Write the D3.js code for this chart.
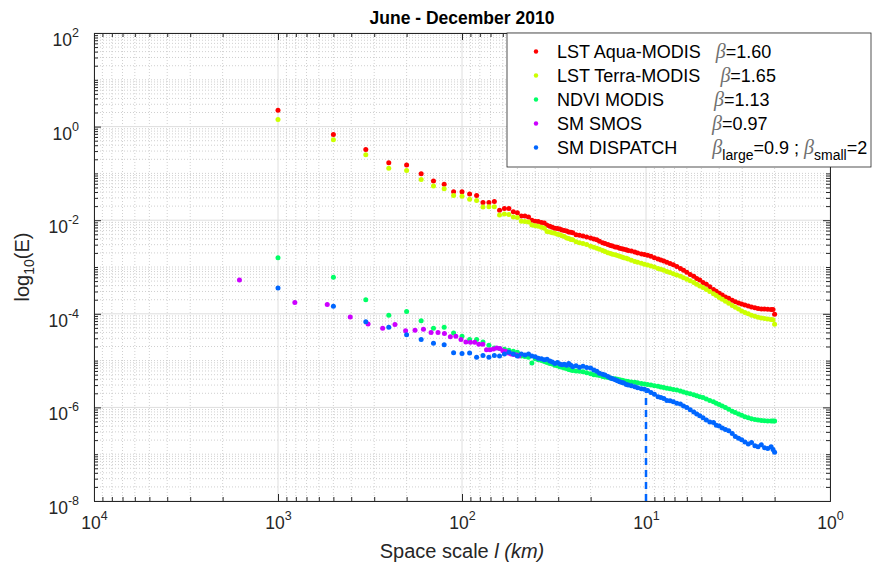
<!DOCTYPE html>
<html>
<head>
<meta charset="utf-8">
<script src="https://cdn.jsdelivr.net/npm/d3@7"></script>
<style>
  body { margin: 0; background: #fff; }
  svg { font-family: "Liberation Sans", Arial, Helvetica, sans-serif; }
</style>
</head>
<body>
<svg id="chart" width="872" height="570"></svg>
<script>
// space scales (km) of the MODIS-grid series (1000 km / n, then the dense tail down to 2 km)
const scalesKm = [1000, 500, 333.3, 250, 200, 166.7, 142.9, 125, 111.1, 100,
  90.9, 83.3, 76.9, 71.4, 66.7, 62.5, 58.8, 55.6, 52.6, 50,
  47.6, 45.5, 43.5, 41.7, 40, 38.5, 37.0, 35.7, 34.5, 33.3,
  32.3, 31.3, 30.3, 29.4, 28.6, 27.8, 27.0, 26.3, 25.6, 25.0,
  24, 23, 22, 21, 20, 19.2, 18.5, 17.9, 17.2, 16.7,
  16.1, 15.6, 15.2, 14.7, 14.3, 13.9, 13.5, 13.2, 12.8, 12.5,
  12.0, 11.5, 11.1, 10.6, 10.2, 9.8, 9.4, 9.0, 8.6, 8.3,
  8.0, 7.7, 7.4, 7.1, 6.8, 6.5, 6.25, 6.0, 5.75, 5.5,
  5.3, 5.1, 4.9, 4.7, 4.5, 4.3, 4.15, 4.0, 3.85, 3.7,
  3.55, 3.4, 3.27, 3.14, 3.02, 2.9, 2.78, 2.67, 2.56, 2.46,
  2.36, 2.27, 2.18, 2.09, 2.04, 2.0];

// log10(E)
const aquaLogE = [0.35, -0.17, -0.49, -0.77, -0.82, -1.01, -1.16, -1.23, -1.39, -1.39,
  -1.44, -1.47, -1.62, -1.62, -1.60, -1.79, -1.75, -1.75, -1.82, -1.84,
  -1.91, -1.91, -1.93, -2.00, -2.02, -2.03, -2.05, -2.06, -2.11, -2.13,
  -2.15, -2.17, -2.18, -2.19, -2.21, -2.22, -2.23, -2.25, -2.26, -2.27,
  -2.31, -2.32, -2.34, -2.36, -2.38, -2.40, -2.42, -2.45, -2.48, -2.50,
  -2.52, -2.54, -2.55, -2.57, -2.58, -2.60, -2.61, -2.62, -2.63, -2.645,
  -2.66, -2.68, -2.70, -2.72, -2.735, -2.75, -2.77, -2.80, -2.83, -2.85,
  -2.87, -2.90, -2.925, -2.95, -2.99, -3.03, -3.07, -3.11, -3.16, -3.20,
  -3.245, -3.28, -3.33, -3.37, -3.42, -3.48, -3.52, -3.56, -3.60, -3.64,
  -3.67, -3.71, -3.74, -3.77, -3.79, -3.81, -3.835, -3.855, -3.87, -3.885,
  -3.895, -3.90, -3.905, -3.91, -3.91, -4.01];

const terraLogE = [0.15, -0.28, -0.60, -0.89, -0.94, -1.13, -1.27, -1.33, -1.47, -1.49,
  -1.55, -1.58, -1.72, -1.71, -1.71, -1.89, -1.87, -1.88, -1.93, -1.94,
  -2.02, -2.03, -2.04, -2.10, -2.12, -2.13, -2.15, -2.17, -2.24, -2.25,
  -2.27, -2.28, -2.30, -2.31, -2.33, -2.35, -2.38, -2.39, -2.41, -2.42,
  -2.46, -2.48, -2.50, -2.52, -2.555, -2.58, -2.60, -2.62, -2.645, -2.67,
  -2.695, -2.71, -2.725, -2.74, -2.755, -2.77, -2.785, -2.80, -2.815, -2.83,
  -2.855, -2.88, -2.90, -2.92, -2.94, -2.955, -2.98, -3.00, -3.03, -3.05,
  -3.07, -3.095, -3.12, -3.145, -3.17, -3.20, -3.23, -3.26, -3.295, -3.33,
  -3.37, -3.405, -3.44, -3.48, -3.525, -3.57, -3.61, -3.65, -3.69, -3.73,
  -3.775, -3.82, -3.86, -3.90, -3.94, -3.97, -4.00, -4.03, -4.055, -4.075,
  -4.09, -4.10, -4.11, -4.12, -4.125, -4.225];

const ndviLogE = [-2.80, -3.22, -3.70, -4.03, -3.95, -4.15, -4.31, -4.29, -4.41, -4.48,
  -4.55, -4.55, -4.60, -4.67, -4.73, -4.74, -4.76, -4.78, -4.80, -4.82,
  -4.90, -4.91, -4.93, -5.05, -4.96, -4.98, -5.00, -5.02, -5.04, -5.06,
  -5.07, -5.10, -5.11, -5.13, -5.14, -5.16, -5.17, -5.19, -5.20, -5.21,
  -5.22, -5.23, -5.24, -5.26, -5.28, -5.30, -5.31, -5.32, -5.34, -5.35,
  -5.36, -5.37, -5.38, -5.39, -5.40, -5.41, -5.42, -5.43, -5.44, -5.445,
  -5.455, -5.465, -5.475, -5.49, -5.50, -5.51, -5.52, -5.535, -5.55, -5.565,
  -5.575, -5.59, -5.60, -5.615, -5.63, -5.65, -5.67, -5.69, -5.71, -5.73,
  -5.75, -5.77, -5.79, -5.82, -5.85, -5.88, -5.91, -5.94, -5.97, -6.00,
  -6.04, -6.08, -6.11, -6.14, -6.17, -6.20, -6.22, -6.24, -6.26, -6.27,
  -6.28, -6.285, -6.29, -6.29, -6.29, -6.29];

const dispatchLogE = [-3.45, -3.84, -4.17, -4.29, -4.45, -4.55, -4.63, -4.66, -4.83, -4.85,
  -4.84, -4.93, -4.89, -4.93, -4.89, -4.90, -4.86, -4.82, -4.86, -4.90,
  -4.86, -4.88, -4.86, -4.90, -4.92, -4.95, -4.96, -4.98, -4.97, -5.01,
  -5.03, -5.06, -5.04, -5.07, -5.09, -5.08, -5.10, -5.06, -5.10, -5.13,
  -5.11, -5.14, -5.12, -5.15, -5.16, -5.20, -5.23, -5.27, -5.29, -5.31,
  -5.34, -5.37, -5.39, -5.41, -5.43, -5.45, -5.47, -5.48, -5.51, -5.52,
  -5.54, -5.56, -5.58, -5.60, -5.61, -5.64, -5.68, -5.72, -5.77, -5.79,
  -5.81, -5.85, -5.86, -5.88, -5.91, -5.93, -5.97, -6.00, -6.05, -6.10,
  -6.14, -6.18, -6.22, -6.27, -6.31, -6.32, -6.38, -6.40, -6.44, -6.47,
  -6.50, -6.56, -6.62, -6.66, -6.69, -6.74, -6.78, -6.75, -6.82, -6.84,
  -6.80, -6.86, -6.88, -6.84, -6.90, -6.96];

// SMOS has its own scales (~1620 km / n)
const smosScalesKm = [1620, 810, 540, 405, 324, 270, 231.4, 202.5, 180, 162,
  147.3, 135, 124.6, 115.7, 108, 101.3, 95.3, 90, 85.3, 81,
  77.1, 73.6, 70.4, 67.5, 64.8, 62.3, 60, 57.9, 55.9, 54,
  52.3, 50.6, 49.1];
const smosLogE = [-3.28, -3.76, -3.80, -4.07, -4.22, -4.31, -4.23, -4.36, -4.35, -4.33,
  -4.40, -4.40, -4.42, -4.49, -4.48, -4.55, -4.60, -4.61, -4.61, -4.65,
  -4.65, -4.77, -4.77, -4.75, -4.73, -4.74, -4.79, -4.80, -4.84, -4.86,
  -4.87, -4.88, -4.90];

// break in DISPATCH spectrum
const cutoffScaleKm = 10;
const cutoffLogE = -5.66;

const legendNames = ["LST Aqua-MODIS   ", "LST Terra-MODIS    ", "NDVI MODIS          ",
  "SM SMOS              ", "SM DISPATCH       "];
const legendBetas = [[["", "1.60"]], [["", "1.65"]], [["", "1.13"]], [["", "0.97"]],
  [["large", "0.9"], ["small", "2"]]];
const seriesColors = ["#ff0000", "#ccff00", "#00ff66", "#cc00ff", "#0066ff"];

const seriesScales = [scalesKm, scalesKm, scalesKm, smosScalesKm, scalesKm];
const seriesLogE = [aquaLogE, terraLogE, ndviLogE, smosLogE, dispatchLogE];

const svg = d3.select('#chart');
const plot = { left: 94, right: 830, top: 33, bottom: 501 };
const axisColor = '#262626';

const x = d3.scaleLog().domain([1e4, 1]).range([plot.left, plot.right]);
const y = d3.scaleLog().domain([1e-8, 1e2]).range([plot.bottom, plot.top]);

const isPow = v => Math.abs(Math.log10(v) - Math.round(Math.log10(v))) < 1e-9;
const xAll = x.ticks();
const xMajor = xAll.filter(isPow);
const xMinor = xAll.filter(v => !isPow(v));
const yAll = y.ticks(20);
const yMajor = yAll.filter(v => isPow(v) && Math.round(Math.log10(v)) % 2 === 0);
const yMinor = yAll.filter(v => !yMajor.includes(v));

svg.append('rect').attr('width', 872).attr('height', 570).attr('fill', '#fff');

// grid
const grid = svg.append('g');
grid.selectAll('line.xm').data(xMinor).join('line')
  .attr('x1', d => x(d)).attr('x2', d => x(d))
  .attr('y1', plot.top).attr('y2', plot.bottom)
  .attr('stroke', '#c4c4c4').attr('stroke-width', 0.8).attr('stroke-dasharray', '1,2');
grid.selectAll('line.ym').data(yMinor).join('line')
  .attr('x1', plot.left).attr('x2', plot.right)
  .attr('y1', d => y(d)).attr('y2', d => y(d))
  .attr('stroke', '#c4c4c4').attr('stroke-width', 0.8).attr('stroke-dasharray', '1,2');
grid.selectAll('line.xM').data(xMajor).join('line')
  .attr('x1', d => x(d)).attr('x2', d => x(d))
  .attr('y1', plot.top).attr('y2', plot.bottom)
  .attr('stroke', '#dedede').attr('stroke-width', 1);
grid.selectAll('line.yM').data(yMajor).join('line')
  .attr('x1', plot.left).attr('x2', plot.right)
  .attr('y1', d => y(d)).attr('y2', d => y(d))
  .attr('stroke', '#dedede').attr('stroke-width', 1);

function styleAxis(g) {
  g.attr('font-size', null).attr('font-family', null);
  g.select('.domain').attr('stroke', axisColor);
  g.selectAll('.tick line').attr('stroke', axisColor);
}

function powerLabel(text) {
  text.each(function (d) {
    const t = d3.select(this).text(null);
    t.append('tspan').text('10');
    t.append('tspan').attr('dy', -9).attr('font-size', 12.5).text(Math.round(Math.log10(d)));
  });
}

// bottom / top
svg.append('g').attr('transform', `translate(0,${plot.bottom})`)
  .call(d3.axisBottom(x).tickValues(xMinor).tickSize(-4).tickSizeOuter(0).tickFormat(''))
  .call(styleAxis);
const gx = svg.append('g').attr('transform', `translate(0,${plot.bottom})`)
  .call(d3.axisBottom(x).tickValues(xMajor).tickSize(-7).tickSizeOuter(0).tickFormat(''))
  .call(styleAxis);
gx.selectAll('.tick text')
  .attr('y', 28).attr('dy', null)
  .attr('font-size', 17.5).attr('fill', axisColor)
  .call(powerLabel);
svg.append('g').attr('transform', `translate(0,${plot.top})`)
  .call(d3.axisTop(x).tickValues(xMinor).tickSize(-4).tickSizeOuter(0).tickFormat(''))
  .call(styleAxis);
svg.append('g').attr('transform', `translate(0,${plot.top})`)
  .call(d3.axisTop(x).tickValues(xMajor).tickSize(-7).tickSizeOuter(0).tickFormat(''))
  .call(styleAxis);

// left / right
svg.append('g').attr('transform', `translate(${plot.left},0)`)
  .call(d3.axisLeft(y).tickValues(yMinor).tickSize(-4).tickSizeOuter(0).tickFormat(''))
  .call(styleAxis);
const gy = svg.append('g').attr('transform', `translate(${plot.left},0)`)
  .call(d3.axisLeft(y).tickValues(yMajor).tickSize(-7).tickSizeOuter(0).tickFormat(''))
  .call(styleAxis);
gy.selectAll('.tick text')
  .attr('x', -15).attr('y', 12.5).attr('dy', null)
  .attr('font-size', 17.5).attr('fill', axisColor).attr('text-anchor', 'end')
  .call(powerLabel);
svg.append('g').attr('transform', `translate(${plot.right},0)`)
  .call(d3.axisRight(y).tickValues(yMinor).tickSize(-4).tickSizeOuter(0).tickFormat(''))
  .call(styleAxis);
svg.append('g').attr('transform', `translate(${plot.right},0)`)
  .call(d3.axisRight(y).tickValues(yMajor).tickSize(-7).tickSizeOuter(0).tickFormat(''))
  .call(styleAxis);

// dashed break line
svg.append('line')
  .attr('x1', x(cutoffScaleKm)).attr('x2', x(cutoffScaleKm))
  .attr('y1', y(1e-8)).attr('y2', y(Math.pow(10, cutoffLogE)))
  .attr('stroke', seriesColors[4]).attr('stroke-width', 2.5)
  .attr('stroke-dasharray', '7,5');

// series points
seriesLogE.forEach((vals, i) => {
  const pts = vals.map((v, j) => ({ l: seriesScales[i][j], e: Math.pow(10, v) }));
  svg.append('g').selectAll('circle').data(pts).join('circle')
    .attr('cx', d => x(d.l))
    .attr('cy', d => y(d.e))
    .attr('r', 2.5)
    .attr('fill', seriesColors[i]);
});

// title and axis labels
svg.append('text')
  .attr('x', (plot.left + plot.right) / 2).attr('y', 24)
  .attr('text-anchor', 'middle').attr('font-size', 17.5).attr('font-weight', 'bold')
  .attr('fill', '#000')
  .text('June - December 2010');

const xl = svg.append('text')
  .attr('x', (plot.left + plot.right) / 2).attr('y', 558)
  .attr('text-anchor', 'middle').attr('font-size', 20).attr('fill', axisColor)
  .style('white-space', 'pre');
xl.append('tspan').text('Space scale ');
xl.append('tspan').attr('font-style', 'italic').text('l (km)');

const yl = svg.append('text')
  .attr('transform', `translate(29,${(plot.top + plot.bottom) / 2}) rotate(-90)`)
  .attr('text-anchor', 'middle').attr('font-size', 20).attr('fill', axisColor);
yl.append('tspan').text('log');
yl.append('tspan').attr('font-size', 14).attr('dy', 5).text('10');
yl.append('tspan').attr('dy', -5).text('(E)');

// legend
const lg = svg.append('g');
lg.append('rect')
  .attr('x', 507).attr('y', plot.top).attr('width', 364).attr('height', 134)
  .attr('fill', '#fff').attr('stroke', axisColor).attr('stroke-width', 0.8);
legendNames.forEach((name, i) => {
  const cy = 51.5 + i * 24;
  lg.append('circle').attr('cx', 536).attr('cy', cy).attr('r', 2.2).attr('fill', seriesColors[i]);
  const t = lg.append('text')
    .attr('x', 557).attr('y', cy + 6)
    .attr('font-size', 18).attr('fill', '#000')
    .style('white-space', 'pre');
  t.append('tspan').text(name);
  legendBetas[i].forEach((b, k) => {
    if (k > 0) t.append('tspan').text(' ; ');
    t.append('tspan').attr('font-family', '"Liberation Serif", serif')
      .attr('font-style', 'italic').attr('font-size', 20).attr('fill', '#707070').text('β');
    if (b[0]) {
      t.append('tspan').attr('font-size', 14).attr('dy', 6).text(b[0]);
      t.append('tspan').attr('dy', -6).text('=' + b[1]);
    } else {
      t.append('tspan').text('=' + b[1]);
    }
  });
});
</script>
</body>
</html>
